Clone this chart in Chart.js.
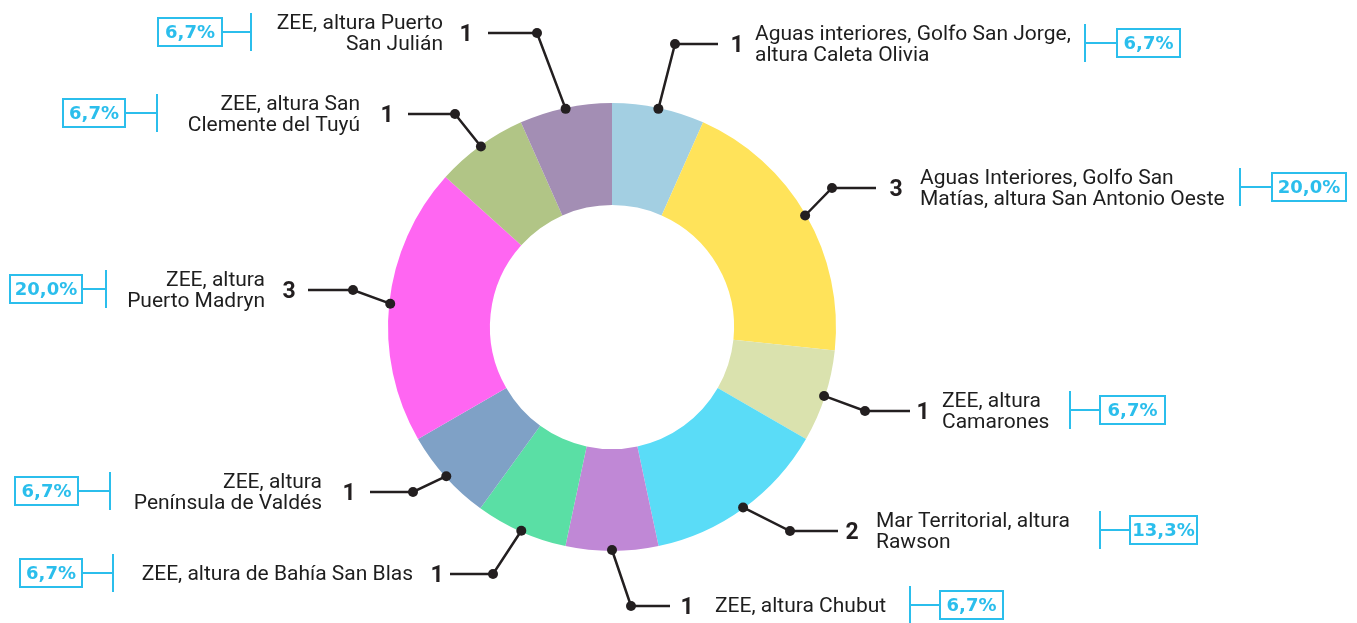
<!DOCTYPE html>
<html>
<head>
<meta charset="utf-8">
<script src="https://cdn.jsdelivr.net/npm/chart.js@4"></script>
<style>
  html, body { margin: 0; padding: 0; background: #fff; }
  #wrap { width: 1357px; height: 623px; position: relative; }
</style>
</head>
<body>
<div id="wrap"><canvas id="donutChart" width="1357" height="623"></canvas></div>
<script>
// Data
const categories = [
    ['Aguas interiores, Golfo San Jorge,', 'altura Caleta Olivia'],
    ['Aguas Interiores, Golfo San', 'Matías, altura San Antonio Oeste'],
    ['ZEE, altura', 'Camarones'],
    ['Mar Territorial, altura', 'Rawson'],
    ['ZEE, altura Chubut'],
    ['ZEE, altura de Bahía San Blas'],
    ['ZEE, altura', 'Península de Valdés'],
    ['ZEE, altura', 'Puerto Madryn'],
    ['ZEE, altura San', 'Clemente del Tuyú'],
    ['ZEE, altura Puerto', 'San Julián']
];
const values = [1, 3, 1, 2, 1, 1, 1, 3, 1, 1];
const colors = ['#A3CFE2', '#FFE35A', '#DAE2AE', '#5ADCF7', '#C088D6',
                '#5ADFA5', '#7FA1C6', '#FF66F2', '#B1C586', '#A38EB4'];

// Label layout (annotation placement only)
// side: r = text to the right of the number, l = to the left
const labelLayout = [
    { side: 'r', elbow: [675, 44], lineEnd: 718, num: 737, text: 755, bracket: 1085, box: 1117, boxW: 63 },
    { side: 'r', elbow: [832, 188], lineEnd: 876, num: 896, text: 920, bracket: 1240, box: 1272, boxW: 74 },
    { side: 'r', elbow: [865, 411], lineEnd: 910, num: 923, text: 942, bracket: 1070, box: 1100, boxW: 65 },
    { side: 'r', elbow: [790, 531], lineEnd: 838, num: 852, text: 876, bracket: 1100, box: 1130, boxW: 67 },
    { side: 'r', elbow: [631, 606], lineEnd: 670, num: 687, text: 715, bracket: 910, box: 940, boxW: 63 },
    { side: 'l', elbow: [493, 574], lineEnd: 450, num: 437, text: 413, bracket: 113, box: 20, boxW: 62 },
    { side: 'l', elbow: [413, 492], lineEnd: 370, num: 349, text: 322, bracket: 110, box: 15, boxW: 63 },
    { side: 'l', elbow: [353, 290], lineEnd: 308, num: 289, text: 265, bracket: 106, box: 10, boxW: 72 },
    { side: 'l', elbow: [455, 114], lineEnd: 408, num: 387, text: 360, bracket: 157, box: 63, boxW: 62 },
    { side: 'l', elbow: [537, 33], lineEnd: 488, num: 466, text: 443, bracket: 251, box: 158, boxW: 64 }
];

const total = values.reduce((a, b) => a + b, 0);

function pctText(v) {
    return (v / total * 100).toFixed(1).replace('.', ',') + '%';
}

const leaderPlugin = {
    id: 'leaders',
    afterDraw(chart) {
        const ctx = chart.ctx;
        const arcs = chart.getDatasetMeta(0).data;
        ctx.save();
        arcs.forEach((arc, i) => {
            const p = arc.getProps(['x', 'y', 'startAngle', 'endAngle', 'outerRadius'], true);
            const mid = (p.startAngle + p.endAngle) / 2;
            const ax = p.x + (p.outerRadius - 1) * Math.cos(mid);
            const ay = p.y + (p.outerRadius - 1) * Math.sin(mid);
            const L = labelLayout[i];
            const ey = L.elbow[1];

            // leader line
            ctx.strokeStyle = '#231F20';
            ctx.lineWidth = 2.5;
            ctx.beginPath();
            ctx.moveTo(ax, ay);
            ctx.lineTo(L.elbow[0], ey);
            ctx.lineTo(L.lineEnd, ey);
            ctx.stroke();
            ctx.fillStyle = '#231F20';
            [[ax, ay], L.elbow].forEach(pt => {
                ctx.beginPath();
                ctx.arc(pt[0], pt[1], 5, 0, Math.PI * 2);
                ctx.fill();
            });

            // count
            ctx.font = 'bold 23px Roboto';
            ctx.textAlign = 'center';
            ctx.textBaseline = 'middle';
            ctx.fillText(String(values[i]), L.num, ey + 2);

            // category text
            const lines = categories[i];
            ctx.font = '21px Roboto';
            ctx.fillStyle = '#1E1E1E';
            ctx.textAlign = L.side === 'r' ? 'left' : 'right';
            const lh = 21;
            const y0 = ey + 1 - (lines.length - 1) * lh / 2;
            lines.forEach((t, k) => ctx.fillText(t, L.text, y0 + k * lh));

            // percent bracket and box
            const cy = ey - 1;
            ctx.strokeStyle = '#2BBEEC';
            ctx.lineWidth = 2;
            ctx.beginPath();
            ctx.moveTo(L.bracket, cy - 19);
            ctx.lineTo(L.bracket, cy + 19);
            const bx0 = L.side === 'r' ? L.bracket : L.box + L.boxW;
            const bx1 = L.side === 'r' ? L.box : L.bracket;
            ctx.moveTo(bx0, cy);
            ctx.lineTo(bx1, cy);
            ctx.stroke();
            ctx.strokeRect(L.box, cy - 14, L.boxW, 28);
            ctx.fillStyle = '#2BBEEC';
            ctx.font = 'bold 18px "DejaVu Sans"';
            ctx.textAlign = 'center';
            ctx.fillText(pctText(values[i]), L.box + L.boxW / 2, cy + 1);
        });
        ctx.restore();
    }
};

const ctx = document.getElementById('donutChart').getContext('2d');
new Chart(ctx, {
    type: 'doughnut',
    data: {
        labels: categories.map(c => c.join(' ')),
        datasets: [{
            data: values,
            backgroundColor: colors,
            borderWidth: 0
        }]
    },
    options: {
        responsive: false,
        animation: false,
        cutout: '54.5%',
        layout: {
            padding: { left: 388, right: 521, top: 103, bottom: 72 }
        },
        plugins: {
            legend: { display: false },
            tooltip: { enabled: false }
        }
    },
    plugins: [leaderPlugin]
});
</script>
</body>
</html>
